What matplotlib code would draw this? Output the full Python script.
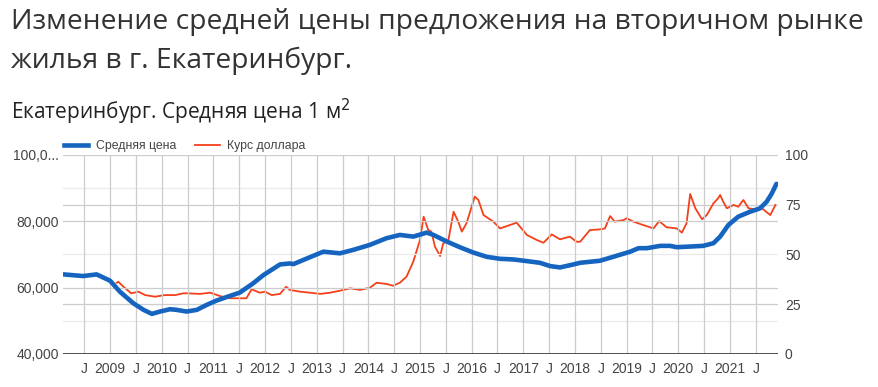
import matplotlib.pyplot as plt
from matplotlib.lines import Line2D

# average price per m2 (left axis), time as decimal year
price_t = [2008.10, 2008.48, 2008.74, 2009.00, 2009.19, 2009.45, 2009.65, 2009.81, 2009.97,
           2010.16, 2010.29, 2010.48, 2010.68, 2010.87, 2011.06, 2011.32, 2011.51, 2011.77,
           2011.97, 2012.17, 2012.29, 2012.48, 2012.55, 2012.81, 2013.13, 2013.45, 2013.71,
           2014.03, 2014.35, 2014.61, 2014.87, 2015.13, 2015.26, 2015.52, 2015.77, 2016.03,
           2016.29, 2016.55, 2016.81, 2017.07, 2017.32, 2017.52, 2017.71, 2017.97, 2018.10,
           2018.48, 2018.74, 2019.07, 2019.23, 2019.39, 2019.65, 2019.84, 2019.97, 2020.23,
           2020.48, 2020.68, 2020.81, 2020.97, 2021.16, 2021.39, 2021.58, 2021.71, 2021.81,
           2021.90]
price_v = [64000, 63500, 64000, 62100, 58800, 55300, 53300, 52100, 52800,
           53500, 53300, 52800, 53300, 54800, 56100, 57500, 58500, 61300,
           63800, 65800, 67000, 67300, 67100, 68800, 70850, 70350, 71400,
           72900, 74900, 75900, 75400, 76600, 75900, 73900, 72200, 70600,
           69300, 68700, 68500, 68000, 67500, 66500, 66100, 67000, 67500,
           68100, 69300, 70850, 71900, 71900, 72600, 72600, 72200, 72400,
           72600, 73400, 75400, 78900, 81400, 82900, 83900, 85900, 88400,
           91300]

# USD rate (right axis)
usd_t = [2009.13, 2009.16, 2009.26, 2009.41, 2009.55, 2009.68, 2009.87, 2010.06, 2010.26,
         2010.42, 2010.48, 2010.74, 2010.94, 2011.13, 2011.32, 2011.51, 2011.64, 2011.74,
         2011.90, 2012.00, 2012.13, 2012.29, 2012.41, 2012.48, 2012.68, 2012.87, 2013.07,
         2013.26, 2013.45, 2013.65, 2013.84, 2014.03, 2014.16, 2014.35, 2014.48, 2014.61,
         2014.74, 2014.87, 2015.00, 2015.07, 2015.16, 2015.22, 2015.29, 2015.39, 2015.45,
         2015.55, 2015.65, 2015.74, 2015.81, 2015.90, 2015.97, 2016.06, 2016.13, 2016.23,
         2016.42, 2016.55, 2016.74, 2016.87, 2017.07, 2017.26, 2017.39, 2017.55, 2017.71,
         2017.90, 2018.03, 2018.10, 2018.29, 2018.48, 2018.58, 2018.68, 2018.77, 2018.94,
         2019.00, 2019.13, 2019.32, 2019.52, 2019.63, 2019.77, 2019.97, 2020.07, 2020.16,
         2020.23, 2020.33, 2020.46, 2020.55, 2020.68, 2020.77, 2020.81, 2020.87, 2020.94,
         2021.07, 2021.16, 2021.26, 2021.36, 2021.49, 2021.62, 2021.78, 2021.88]
usd_v = [35.8, 36.3, 33.8, 30.5, 31.3, 29.6, 28.8, 29.6, 29.6,
         30.5, 30.5, 30.2, 30.8, 29.1, 28.0, 28.0, 28.0, 32.5,
         30.8, 31.3, 29.6, 30.2, 33.8, 32.2, 31.3, 30.8, 30.2,
         30.8, 31.8, 33.0, 32.2, 33.3, 35.8, 35.2, 34.3, 35.8,
         38.9, 46.4, 57.3, 69.0, 62.3, 61.5, 53.9, 49.2, 55.6,
         57.3, 71.5, 66.5, 61.5, 65.7, 71.5, 79.1, 77.4, 69.8,
         66.5, 63.1, 64.8, 66.0, 59.8, 57.3, 55.9, 60.1, 57.6,
         59.0, 56.4, 56.4, 62.3, 62.6, 63.1, 69.3, 66.5, 67.3,
         68.2, 66.5, 64.8, 63.1, 66.8, 63.7, 63.1, 61.0, 65.7,
         80.4, 73.2, 67.7, 69.8, 75.7, 78.2, 79.9, 76.5, 73.2,
         74.9, 74.0, 77.4, 73.2, 72.7, 73.2, 69.8, 74.9]

years = list(range(2009, 2022))
left_ticks = [40000, 60000, 80000, 100000]
left_labels = ["40,000", "60,000", "80,000", "100,0..."]
right_ticks = [0, 25, 50, 75, 100]

BLUE = "#1565c0"
RED = "#f4401a"
TXT = "#444444"

fig = plt.figure(figsize=(8.79, 3.87), dpi=100)
plt.rcParams["font.family"] = ["Liberation Sans", "DejaVu Sans"]

fig.text(0.012, 0.943, "Изменение средней цены предложения на вторичном рынке",
         fontsize=20.3, color="#333333", family=["Open Sans", "DejaVu Sans"], va="center")
fig.text(0.012, 0.843, "жилья в г. Екатеринбург.",
         fontsize=20.3, color="#333333", family=["Open Sans", "DejaVu Sans"], va="center")
fig.text(0.012, 0.712, "Екатеринбург. Средняя цена 1 м$^2$",
         fontsize=15, color="#222222", family=["Open Sans", "DejaVu Sans"], va="center")

ax = fig.add_axes([0.0717, 0.0853, 0.8134, 0.5142])
ax2 = ax.twinx()

xmin, xmax = 2008.09, 2021.93
ax.set_xlim(xmin, xmax)
ax.set_ylim(40000, 100000)
ax2.set_ylim(0, 100)

# grid
for y in [50000, 70000, 90000]:
    ax.axhline(y, color="#ebebeb", lw=0.9, zorder=0)
for y in [60000, 80000, 100000]:
    ax.axhline(y, color="#cccccc", lw=0.9, zorder=0)
for y in [25, 75]:
    ax2.axhline(y, color="#cccccc", lw=0.9, zorder=0)
for yr in years:
    ax.axvline(yr, color="#cccccc", lw=0.9, zorder=0)
for yr in [2008] + years:
    ax.axvline(yr + 0.5, color="#cccccc", lw=0.9, zorder=0)
ax.axhline(40000, color="#333333", lw=1.2, zorder=1)

ax.plot(price_t, price_v, color=BLUE, lw=3.3, solid_capstyle="round", zorder=3)
ax2.plot(usd_t, usd_v, color=RED, lw=1.3, zorder=4)
ax.set_zorder(ax2.get_zorder() + 1)
ax.patch.set_visible(False)

# x ticks
xt, xl = [], []
for yr in [2008] + years:
    if yr >= 2009:
        xt.append(yr)
        xl.append(str(yr))
    xt.append(yr + 0.5)
    xl.append("J")
ax.set_xticks(xt)
ax.set_xticklabels(xl)
ax.tick_params(axis="x", length=0, pad=6, labelsize=10, colors=TXT)

ax.set_yticks(left_ticks)
ax.set_yticklabels(left_labels)
ax.tick_params(axis="y", length=0, pad=3, labelsize=10, colors=TXT)
ax2.set_yticks(right_ticks)
ax2.tick_params(axis="y", length=0, pad=5, labelsize=10, colors=TXT)

for a in (ax, ax2):
    for s in a.spines.values():
        s.set_visible(False)

handles = [Line2D([], [], color=BLUE, lw=3.3), Line2D([], [], color=RED, lw=1.3)]
fig.legend(handles, ["Средняя цена", "Курс доллара"], loc="center left",
           bbox_to_anchor=(0.06, 0.622), ncol=2, frameon=False, fontsize=8.8,
           handlelength=2.0, handletextpad=0.6, columnspacing=1.6, labelcolor=TXT)

fig.savefig("out.png", dpi=100)
